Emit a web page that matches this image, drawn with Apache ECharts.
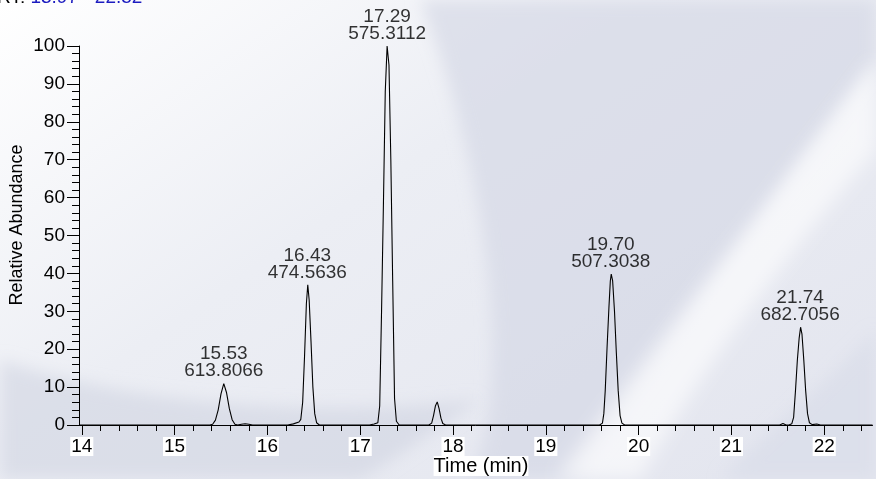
<!DOCTYPE html>
<html><head><meta charset="utf-8">
<script src="https://cdn.jsdelivr.net/npm/echarts@6/dist/echarts.min.js"></script>
<style>
html,body{margin:0;padding:0;background:#fff}
#wrap{position:relative;width:876px;height:479px;overflow:hidden}
#bg{position:absolute;left:0;top:0}
#c{position:absolute;left:0;top:0;width:876px;height:479px}
</style>
</head><body><div id="wrap">
<svg id="bg" width="876" height="479" viewBox="0 0 876 479">
  <defs>
    <linearGradient id="g0" x1="0" y1="0" x2="1" y2="0.8">
      <stop offset="0" stop-color="#ffffff"/>
      <stop offset="0.45" stop-color="#eceef4"/>
      <stop offset="1" stop-color="#e4e6ef"/>
    </linearGradient>
    <filter id="bl" x="-20%" y="-20%" width="140%" height="140%"><feGaussianBlur stdDeviation="8"/></filter>
    <filter id="bl2" x="-20%" y="-20%" width="140%" height="140%"><feGaussianBlur stdDeviation="9"/></filter>
  </defs>
  <rect width="876" height="479" fill="url(#g0)"/>
  <path d="M0,479 L0,360 C120,400 300,420 480,400 C420,440 380,470 360,479 Z" fill="rgba(205,209,224,0.55)" filter="url(#bl)"/>
  <path d="M420,0 L876,0 L876,60 C800,160 700,300 575,479 L470,479 C520,380 480,150 420,0 Z" fill="rgba(212,215,229,0.65)" filter="url(#bl)"/>
  <path d="M555,479 C650,350 770,200 876,60 L876,150 C790,250 700,370 640,479 Z" fill="rgba(255,255,255,0.6)" filter="url(#bl2)"/>
  <path d="M720,479 C780,420 840,370 876,330 L876,479 Z" fill="rgba(214,217,231,0.5)" filter="url(#bl)"/>
</svg>
<div id="c"></div></div>
<script>
// Retention time (min) and relative abundance (%)
const rtMin = [
  13.97, 15.38, 15.41, 15.44, 15.47, 15.50, 15.53, 15.56, 15.59, 15.62, 15.65, 15.68,
  15.72, 15.76, 15.80, 15.84,
  16.22, 16.28, 16.34, 16.36, 16.38, 16.40, 16.42, 16.435, 16.45, 16.47, 16.49, 16.51, 16.53, 16.56,
  17.10, 17.15, 17.19, 17.21, 17.23, 17.25, 17.27, 17.29, 17.31, 17.33, 17.35, 17.37, 17.39, 17.42,
  17.74, 17.77, 17.79, 17.81, 17.83, 17.85, 17.87, 17.89, 17.92,
  19.58, 19.61, 19.625, 19.64, 19.66, 19.68, 19.695, 19.705, 19.72, 19.74, 19.76, 19.78, 19.80, 19.82, 19.85,
  21.52, 21.555, 21.59, 21.62, 21.65, 21.67, 21.69, 21.71, 21.73, 21.745, 21.76, 21.78, 21.80, 21.82, 21.84,
  21.87, 21.92, 21.96, 22.52
];
const relAbundance = [
  0, 0, 0.2, 1.3, 4.0, 8.2, 10.9, 8.5, 4.3, 1.4, 0.2, 0,
  0.2, 0.35, 0.2, 0,
  0, 0.3, 0.8, 1.5, 6, 18, 32, 37, 33, 22, 10, 3, 0.6, 0,
  0, 0.25, 0.6, 5, 30, 58, 88, 100, 95, 70, 38, 7, 1, 0,
  0, 0.5, 2.5, 5, 6.1, 4.3, 1.8, 0.4, 0,
  0, 0.5, 3, 9, 20.5, 31, 38, 39.8, 38, 30, 19, 9, 2.5, 0.5, 0,
  0, 0.4, 0, 0, 0.3, 2, 9, 17, 23, 25.8, 24, 17, 9, 3, 0.6,
  0.1, 0.25, 0, 0
];
// Labelled peaks
const peakRt = [15.53, 16.43, 17.29, 19.70, 21.74];
const peakHeight = [10.9, 37, 100, 39.8, 25.8];
const peakMz = ['613.8066', '474.5636', '575.3112', '507.3038', '682.7056'];
// Axis ticks
const xMajorTicks = [14, 15, 16, 17, 18, 19, 20, 21, 22];
const xMinorTicks = [14.2, 14.4, 14.6, 14.8, 15.2, 15.4, 15.6, 15.8, 16.2, 16.4, 16.6, 16.8,
  17.2, 17.4, 17.6, 17.8, 18.2, 18.4, 18.6, 18.8, 19.2, 19.4, 19.6, 19.8, 20.2, 20.4, 20.6, 20.8,
  21.2, 21.4, 21.6, 21.8, 22.2, 22.4];
const rtRange = [13.97, 22.52];

const FONT = 'Liberation Sans, Arial, sans-serif';
const chart = echarts.init(document.getElementById('c'), null, {renderer: 'canvas'});
const trace = rtMin.map((t, i) => [t, relAbundance[i]]);
const peaks = peakRt.map((t, i) => [t, peakHeight[i]]);

chart.setOption({
  animation: false,
  backgroundColor: 'transparent',
  graphic: [
    {type: 'text', left: -3, top: -12, silent: true,
      style: {text: '{a|RT:} {b|13.97 - 22.52}', font: '19px ' + FONT,
        rich: {a: {fill: '#000', fontSize: 19, fontFamily: FONT}, b: {fill: '#1c1cc0', fontSize: 19, fontFamily: FONT}}}},
    {type: 'text', x: 17, y: 225, rotation: Math.PI / 2, silent: true,
      style: {text: 'Relative Abundance', fill: '#000', font: '18px ' + FONT, align: 'center', verticalAlign: 'middle'}},
    {type: 'text', x: 481, y: 466, silent: true,
      style: {text: 'Time (min)', fill: '#000', font: '20px ' + FONT, align: 'center', verticalAlign: 'middle',
        backgroundColor: '#fff'}}
  ],
  grid: {left: 79, right: 3.5, top: 46, bottom: 54, containLabel: false},
  xAxis: [{
    type: 'value', min: rtRange[0], max: rtRange[1],
    axisLine: {show: true, onZero: false, lineStyle: {color: '#000', width: 1}},
    axisTick: {show: true, length: 10, customValues: xMajorTicks, lineStyle: {color: '#000'}},
    axisLabel: {customValues: xMajorTicks, color: '#000', fontSize: 19, fontFamily: FONT, margin: 12,
      backgroundColor: '#fff', padding: [0, 1], formatter: v => String(Math.round(v))},
    splitLine: {show: false}
  }, {
    type: 'value', min: rtRange[0], max: rtRange[1], position: 'bottom',
    axisLine: {show: false},
    axisTick: {show: true, length: 6, customValues: xMinorTicks, lineStyle: {color: '#000'}},
    axisLabel: {show: false},
    splitLine: {show: false}
  }],
  yAxis: {
    type: 'value', min: 0, max: 100, interval: 10,
    axisLine: {show: true, lineStyle: {color: '#000', width: 1}},
    axisTick: {show: true, length: 12, lineStyle: {color: '#000'}},
    minorTick: {show: true, splitNumber: 5, length: 7, lineStyle: {color: '#000'}},
    axisLabel: {color: '#000', fontSize: 19, fontFamily: FONT, margin: 14},
    splitLine: {show: false}
  },
  series: [{
    type: 'line', data: trace, xAxisIndex: 0, showSymbol: false, symbol: 'none',
    lineStyle: {color: '#000', width: 1.1}, z: 3
  }, {
    type: 'scatter', data: peaks, xAxisIndex: 0, symbolSize: 0, silent: true,
    label: {show: true, position: 'top', distance: 4, color: '#000', fontSize: 19, fontFamily: FONT,
      lineHeight: 17, formatter: p => peakRt[p.dataIndex].toFixed(2) + '\n' + peakMz[p.dataIndex]},
    z: 4
  }]
});
</script></body></html>
